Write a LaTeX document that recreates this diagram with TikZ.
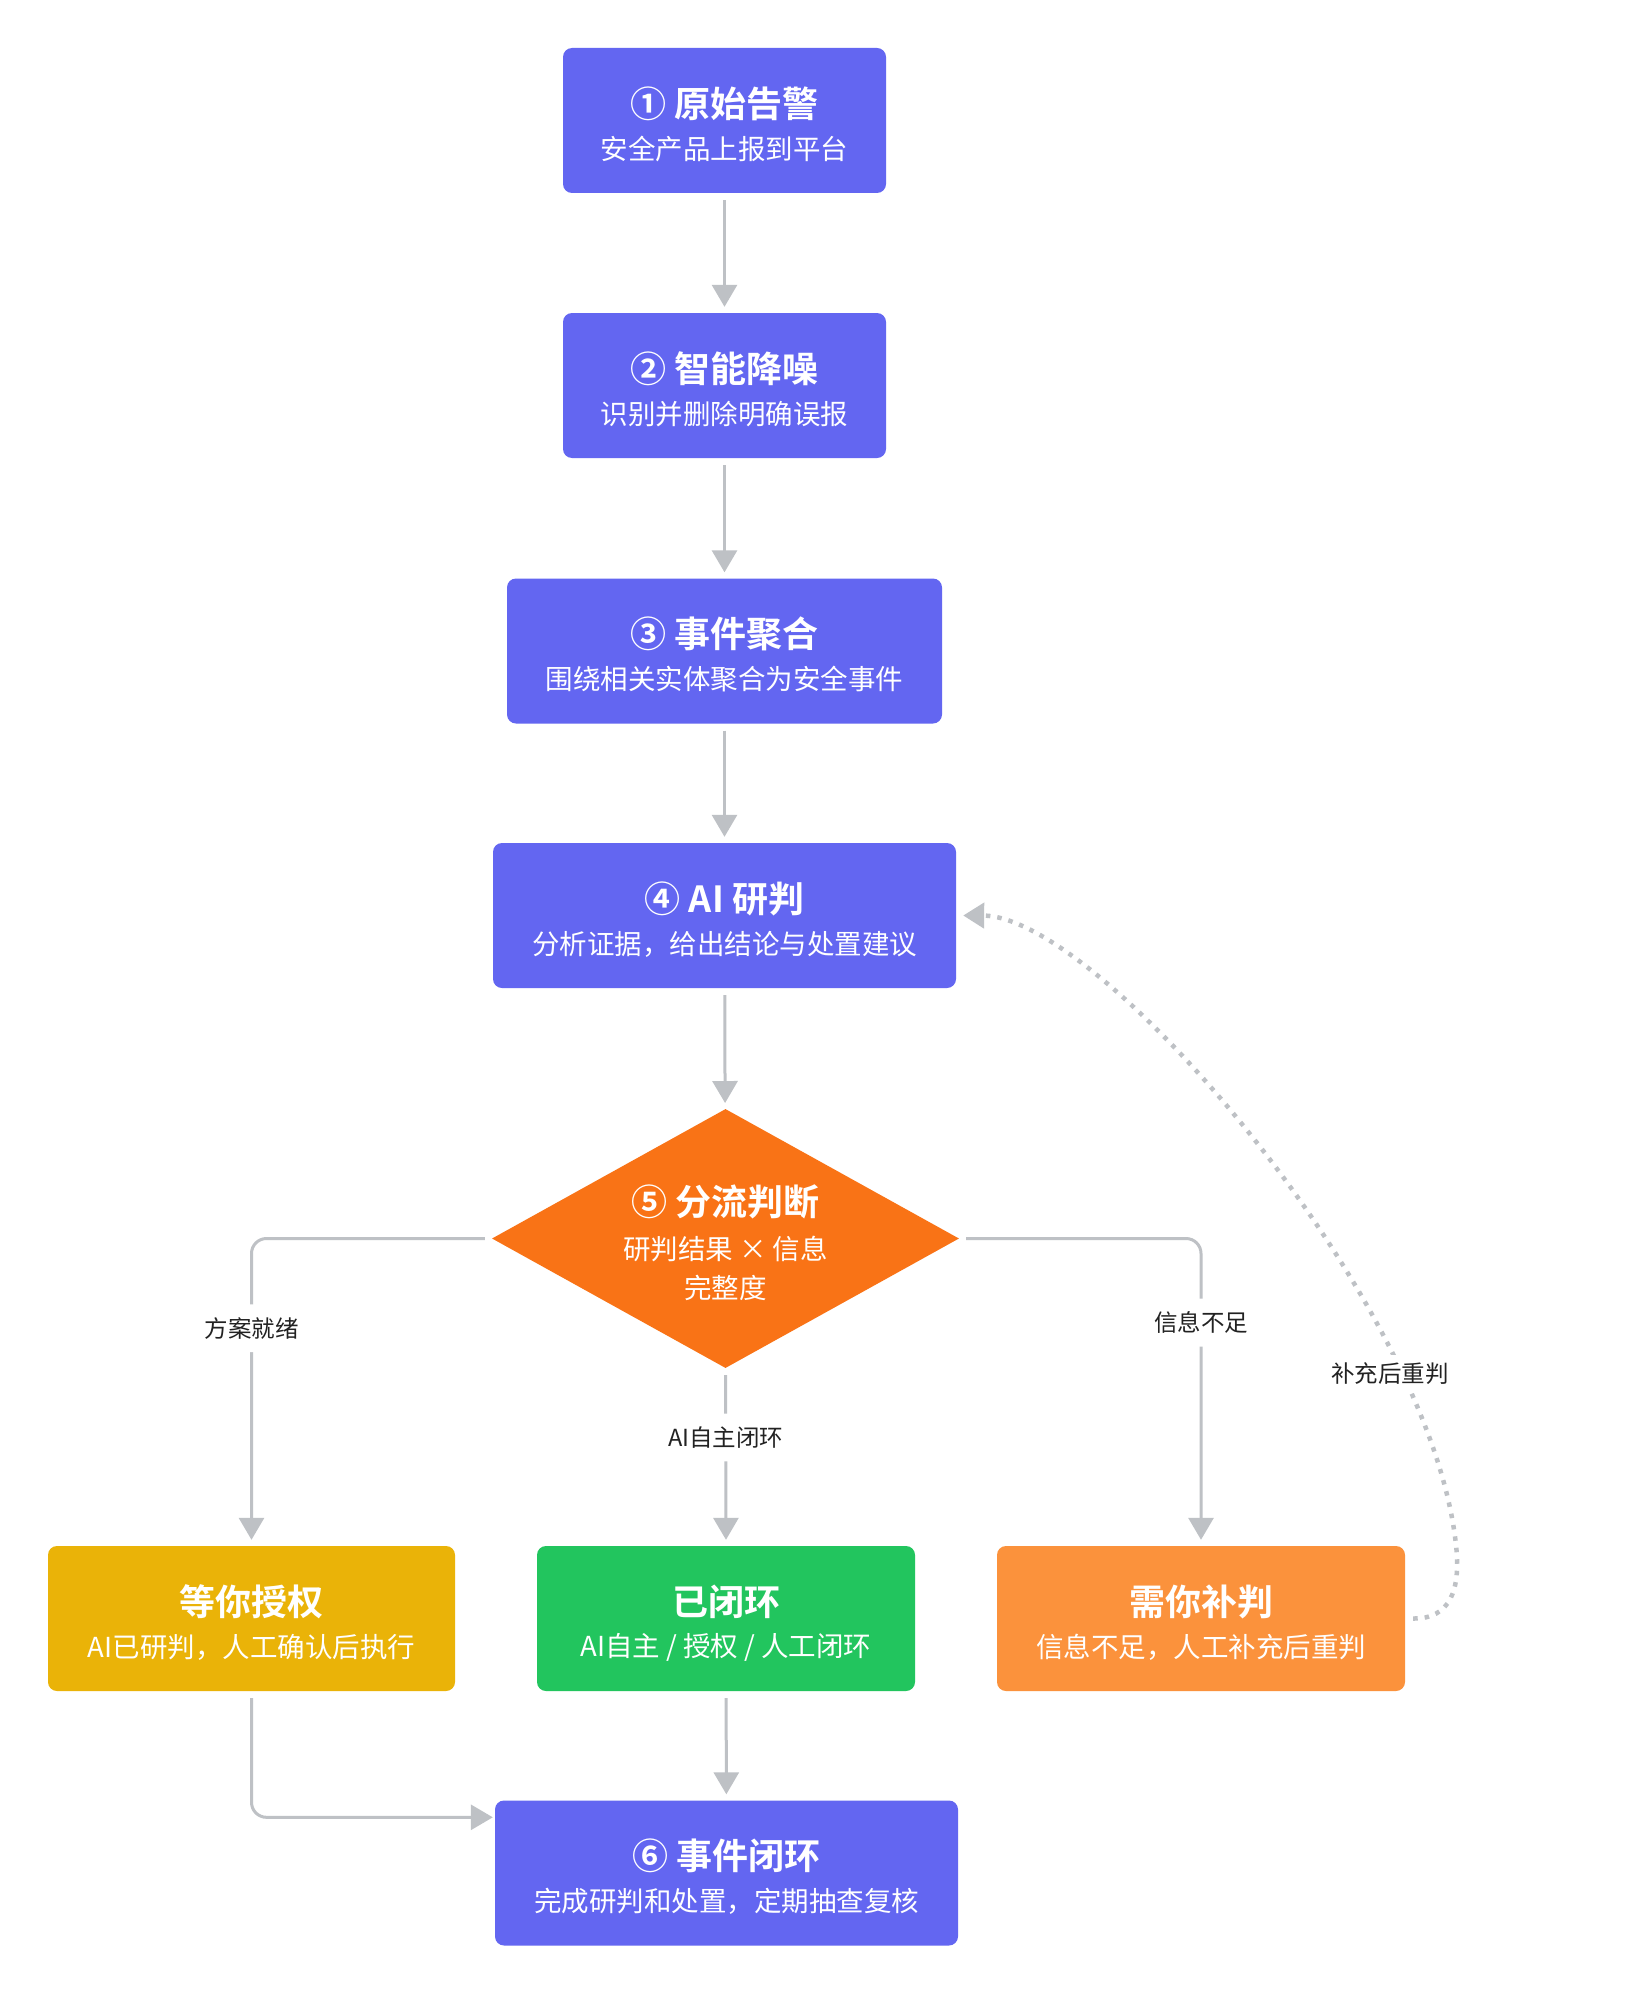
\documentclass[tikz,border=0pt]{standalone}
\usepackage{fontspec}
\setmainfont{Noto Sans CJK SC}[BoldFont={Noto Sans CJK SC Bold}]
\usetikzlibrary{shapes.geometric,arrows.meta,calc}
\definecolor{indigo}{HTML}{6366F1}
\definecolor{dorange}{HTML}{F97316}
\definecolor{byellow}{HTML}{EAB308}
\definecolor{bgreen}{HTML}{22C55E}
\definecolor{borange}{HTML}{FB923C}
\definecolor{linegray}{RGB}{190,193,197}
\definecolor{labelc}{HTML}{222222}
\begin{document}
\begin{tikzpicture}[x=1pt,y=-1pt,
  box/.style={rectangle, rounded corners=9pt, inner sep=0pt, minimum height=145pt},
  ttl/.style={font=\fontsize{36}{40}\selectfont\bfseries, text=white, inner sep=0pt},
  sub/.style={font=\fontsize{27.5}{32}\selectfont, text=white, inner sep=0pt},
  conn/.style={draw=linegray, line width=3pt, rounded corners=15pt,
    -{Triangle[length=22pt,width=25pt]}, shorten <=7pt, shorten >=6pt},
  dotconn/.style={draw=linegray, line width=4.5pt, line cap=butt,
    dash pattern=on 4.5pt off 7pt, -{Triangle[length=21pt,width=25pt]}},
  lbl/.style={fill=white, inner xsep=6pt, inner ysep=13pt,
    font=\fontsize{23.5}{26}\selectfont, text=labelc}
]
\useasboundingbox (0,0) rectangle (1639,1993);
\fill[white] (0,0) rectangle (1639,1993);

% boxes
\node[box, fill=indigo, minimum width=323pt] (b1) at (724.5,120.5) {};
\node[box, fill=indigo, minimum width=323pt] (b2) at (724.5,385.5) {};
\node[box, fill=indigo, minimum width=435pt] (b3) at (724.5,651) {};
\node[box, fill=indigo, minimum width=463pt] (b4) at (724.5,915.5) {};
\node[diamond, fill=dorange, inner sep=0pt, shape aspect=1.8,
  minimum width=467pt, minimum height=259pt] (d) at (725.5,1238.5) {};
\node[box, fill=byellow, minimum width=407pt] (y) at (251.5,1618.5) {};
\node[box, fill=bgreen, minimum width=378pt] (g) at (726,1618.5) {};
\node[box, fill=borange, minimum width=408pt] (o) at (1201,1618.5) {};
\node[box, fill=indigo, minimum width=463pt] (b6) at (726.5,1873) {};

% texts
\node[ttl] (b1t) at ($(b1)+(0,-17)$) {① 原始告警};
\node[sub] (b1s) at ($(b1)+(0,28.5)$) {安全产品上报到平台};
\node[ttl] (b2t) at ($(b2)+(0,-17)$) {② 智能降噪};
\node[sub] (b2s) at ($(b2)+(0,28.5)$) {识别并删除明确误报};
\node[ttl] (b3t) at ($(b3)+(0,-17)$) {③ 事件聚合};
\node[sub] (b3s) at ($(b3)+(0,28.5)$) {围绕相关实体聚合为安全事件};
\node[ttl] (b4t) at ($(b4)+(0,-17)$) {④ AI 研判};
\node[sub] (b4s) at ($(b4)+(0,28.5)$) {分析证据，给出结论与处置建议};
\node[ttl] (dt) at ($(d)+(0,-36.5)$) {⑤ 分流判断};
\node[sub] (ds1) at ($(d)+(0,10.5)$) {研判结果 × 信息};
\node[sub] (ds2) at ($(d)+(0,49.5)$) {完整度};
\node[ttl] (yt) at ($(y)+(0,-17)$) {等你授权};
\node[sub] (ys) at ($(y)+(0,28.5)$) {AI已研判，人工确认后执行};
\node[ttl] (gt) at ($(g)+(0,-17)$) {已闭环};
\node[sub] (gs) at ($(g)+(0,28.5)$) {AI自主 / 授权 / 人工闭环};
\node[ttl] (ot) at ($(o)+(0,-17)$) {需你补判};
\node[sub] (os) at ($(o)+(0,28.5)$) {信息不足，人工补充后重判};
\node[ttl] (b6t) at ($(b6)+(0,-17)$) {⑥ 事件闭环};
\node[sub] (b6s) at ($(b6)+(0,28.5)$) {完成研判和处置，定期抽查复核};

% connectors
\draw[conn] (b1) -- (b2);
\draw[conn] (b2) -- (b3);
\draw[conn] (b3) -- (b4);
\draw[conn] (b4) -- (d);
\draw[conn] (d.west) -| node[lbl, pos=0.646] (l1) {方案就绪} (y.north);
\draw[conn] (d.south) -- node[lbl, pos=0.39] (l2) {AI自主闭环} (g.north);
\draw[conn] (d.east) -| node[lbl, pos=0.637] (l3) {信息不足} (o.north);
\draw[conn] (g) -- (b6);
\coordinate (c6) at ($(b6.north west)+(0,17)$);
\draw[conn, shorten >=2pt] (y.south) |- (c6);

% feedback loop
\draw[dotconn] ([xshift=8pt]o.east) .. controls (1450,1619) and (1461,1590) .. (1456,1545)
  .. controls (1430,1300) and (1100,916) .. ([xshift=7pt]b4.east);
\node[lbl, inner ysep=8pt] (l4) at (1390,1374) {补充后重判};
\end{tikzpicture}
\end{document}
